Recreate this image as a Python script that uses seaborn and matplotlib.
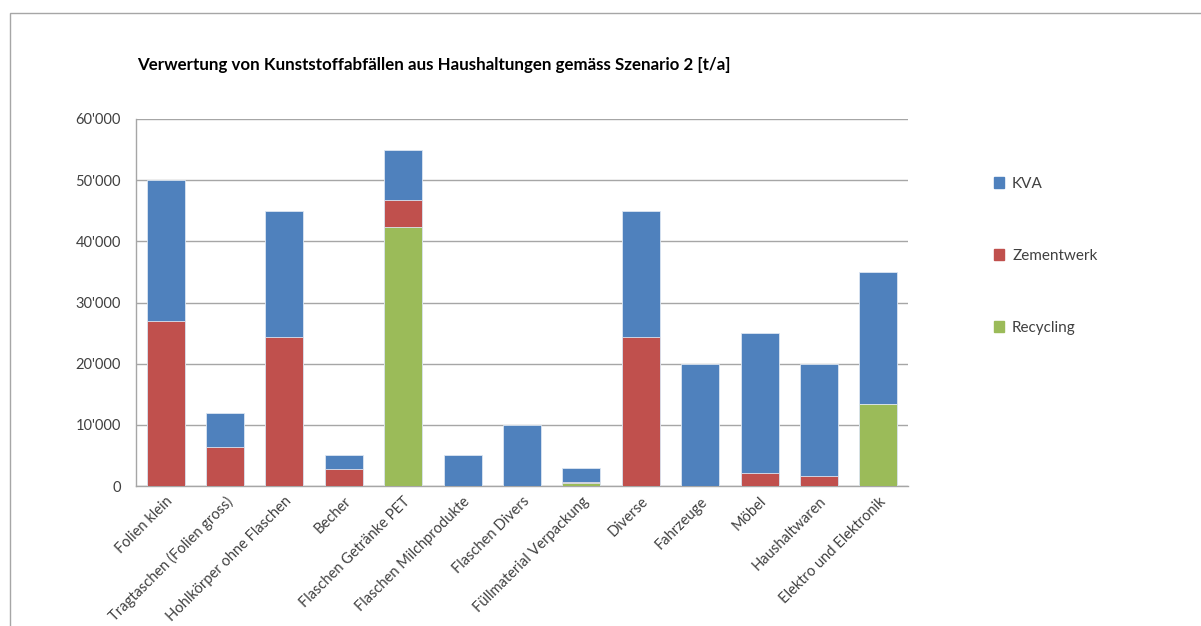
import matplotlib
matplotlib.use("Agg")
import matplotlib.pyplot as plt
import seaborn as sns
import pandas as pd
from matplotlib.patches import Patch, Rectangle
from matplotlib.ticker import FuncFormatter

# Daten (t/a)
kategorien = ["Folien klein", "Tragtaschen (Folien gross)", "Hohlkörper ohne Flaschen",
              "Becher", "Flaschen Getränke PET", "Flaschen Milchprodukte",
              "Flaschen Divers", "Füllmaterial Verpackung", "Diverse", "Fahrzeuge",
              "Möbel", "Haushaltwaren", "Elektro und Elektronik"]
recycling = [0, 0, 0, 0, 42300, 0, 0, 500, 0, 0, 0, 0, 13400]
zementwerk = [27000, 6400, 24300, 2700, 4500, 0, 0, 100, 24300, 0, 2200, 1700, 0]
kva = [23000, 5600, 20700, 2300, 8200, 5000, 10000, 2400, 20700, 20000, 22800, 18300, 21600]

farben = {"KVA": "#4F81BD", "Zementwerk": "#C0504D", "Recycling": "#9BBB59"}

df = pd.DataFrame({"Kategorie": kategorien, "Recycling": recycling,
                   "Zementwerk": zementwerk, "KVA": kva})
# kumulierte Höhen zum Übereinanderzeichnen
df["h_rec"] = df["Recycling"]
df["h_zem"] = df["Recycling"] + df["Zementwerk"]
df["h_kva"] = df["h_zem"] + df["KVA"]

sns.set_style("white")
plt.rcParams["font.family"] = ["Lato", "DejaVu Sans"]

fig = plt.figure(figsize=(12.01, 6.26), dpi=100)
ax = fig.add_axes([136 / 1201, 1 - 486 / 626, 772 / 1201, 367 / 626])

for spalte, name in [("h_kva", "KVA"), ("h_zem", "Zementwerk"), ("h_rec", "Recycling")]:
    sns.barplot(data=df, x="Kategorie", y=spalte, color=farben[name], width=0.64,
                saturation=1, edgecolor="#dce6f2", linewidth=0.6, ax=ax, zorder=3)

ax.set_ylim(0, 60000)
ax.set_yticks(range(0, 60001, 10000))
ax.yaxis.set_major_formatter(FuncFormatter(lambda v, p: "0" if v == 0 else f"{int(v):,}".replace(",", "'")))
ax.grid(axis="y", color="#a6a6a6", linewidth=1, zorder=0)
ax.set_axisbelow(True)
for s in ["top", "right"]:
    ax.spines[s].set_visible(False)
for s in ["left", "bottom"]:
    ax.spines[s].set_color("#a6a6a6")
    ax.spines[s].set_linewidth(1)
ax.set_xlabel("")
ax.set_ylabel("")
ax.tick_params(axis="y", length=0, pad=11, labelsize=10.5, labelcolor="#404040")
ax.tick_params(axis="x", length=0, pad=6, labelsize=10.5, labelcolor="#404040")
plt.setp(ax.get_xticklabels(), rotation=45, ha="right", rotation_mode="anchor")

fig.text(137 / 1201, 1 - 65 / 626, "Verwertung von Kunststoffabfällen aus Haushaltungen gemäss Szenario 2 [t/a]",
         fontsize=12.2, fontweight="bold", va="center", ha="left", color="#000000")

handles = [Patch(color=farben[n]) for n in ["KVA", "Zementwerk", "Recycling"]]
fig.legend(handles, ["KVA", "Zementwerk", "Recycling"], loc="upper left",
           bbox_to_anchor=(980 / 1201, 1 - 163 / 626), frameon=False, fontsize=11,
           labelspacing=3.8, handlelength=0.7, handleheight=0.7, handletextpad=0.5,
           labelcolor="#404040")

# Rahmen des Diagrammbereichs
fig.patches.append(Rectangle((10 / 1201, -0.05), 1.2, 1.05 - 13 / 626, transform=fig.transFigure,
                             fill=False, edgecolor="#a6a6a6", linewidth=1))

fig.savefig("out.png", dpi=100)
